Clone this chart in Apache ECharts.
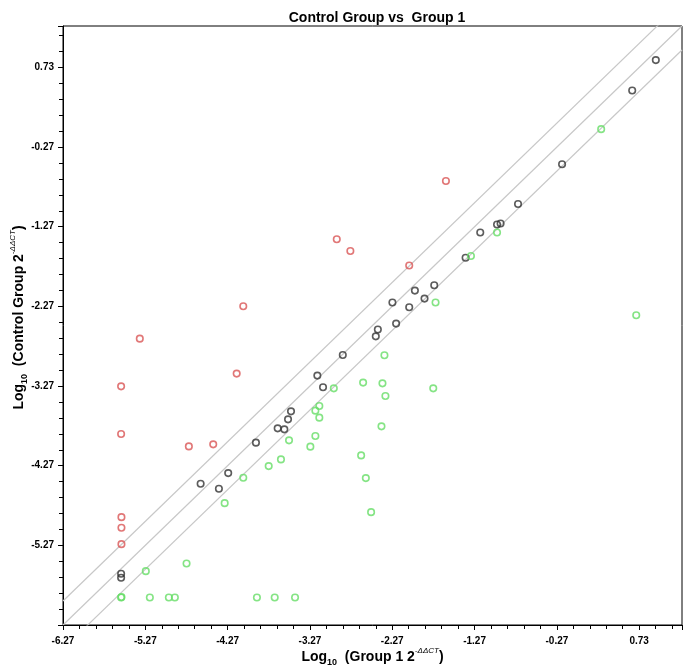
<!DOCTYPE html>
<html><head><meta charset="utf-8">
<script src="https://cdn.jsdelivr.net/npm/echarts@6/dist/echarts.min.js"></script>
<style>html,body{margin:0;padding:0;background:#fff}#c{width:692px;height:672px}</style>
</head><body><div id="c"></div>
<script>
// Axis range (log10 units) and tick step
const axisMin = -6.27;
const axisMax = 1.25;
const tickStep = 1;
const foldOffset = Math.log10(2); // 2-fold boundary lines

// Points above the upper boundary (red)
const upPoints = [
  [-1.618,-0.695],[-2.944,-1.427],[-2.779,-1.574],[-2.064,-1.757],[-4.080,-2.269],
  [-5.337,-2.675],[-5.564,-3.274],[-4.160,-3.114],[-5.564,-3.873],[-4.741,-4.028],
  [-4.445,-4.002],[-5.560,-4.916],[-5.560,-5.049],[-5.560,-5.255]
];
// Points between the boundaries (black)
const midPoints = [
  [0.932,0.822],[0.645,0.441],[-0.207,-0.485],[-0.742,-0.984],[-0.997,-1.242],
  [-0.954,-1.230],[-1.201,-1.343],[-1.379,-1.659],[-1.760,-2.005],[-1.995,-2.072],
  [-2.268,-2.222],[-1.878,-2.172],[-2.064,-2.281],[-2.223,-2.486],[-2.445,-2.561],
  [-2.470,-2.646],[-2.871,-2.881],[-3.180,-3.139],[-3.111,-3.286],[-3.500,-3.588],
  [-3.536,-3.688],[-3.662,-3.801],[-3.581,-3.814],[-3.926,-3.981],[-4.263,-4.363],
  [-4.598,-4.496],[-4.376,-4.559],[-5.564,-5.627],[-5.564,-5.677]
];
// Points below the lower boundary (green)
const downPoints = [
  [0.268,-0.045],[-0.997,-1.343],[-1.314,-1.637],[0.694,-2.382],[-1.744,-2.222],
  [-2.365,-2.884],[-2.624,-3.227],[-2.389,-3.236],[-1.772,-3.299],[-2.353,-3.396],
  [-2.980,-3.299],[-3.156,-3.521],[-3.204,-3.579],[-3.156,-3.667],[-2.401,-3.776],
  [-3.524,-3.952],[-3.204,-3.898],[-3.265,-4.031],[-2.648,-4.141],[-3.622,-4.191],
  [-3.771,-4.275],[-4.080,-4.421],[-2.591,-4.426],[-2.527,-4.853],[-4.306,-4.740],
  [-4.769,-5.497],[-5.264,-5.594],[-5.564,-5.924],[-5.560,-5.920],[-5.215,-5.924],
  [-4.984,-5.924],[-4.911,-5.924],[-3.914,-5.924],[-3.698,-5.924],[-3.451,-5.924]
];

const FONT = 'Liberation Sans';
const refLine = off => [[axisMin, axisMin + off], [axisMax, axisMax + off]];

function lineSeries(off) {
  return {
    type: 'line', data: refLine(off), symbol: 'none', silent: true, clip: true,
    lineStyle: { color: '#c8c8c8', width: 1.2 }, z: 1, animation: false
  };
}
function scatterSeries(data, color) {
  return {
    type: 'scatter', data: data, symbol: 'circle', symbolSize: 6.5, z: 3,
    itemStyle: { color: 'rgba(0,0,0,0)', borderColor: color, borderWidth: 1.6 },
    animation: false
  };
}
function axisCommon() {
  return {
    type: 'value', min: axisMin, max: axisMax, interval: tickStep,
    nameLocation: 'middle', nameMoveOverlap: false,
    axisLine: { show: true, onZero: false, lineStyle: { color: '#000', width: 1 } },
    axisTick: { show: true, length: 5, lineStyle: { color: '#000' } },
    minorTick: { show: true, splitNumber: 5, length: 4, lineStyle: { color: '#000' } },
    splitLine: { show: false },
    minorSplitLine: { show: false },
    axisLabel: {
      fontFamily: FONT, fontSize: 10, fontWeight: 'bold', color: '#000',
      formatter: v => v.toFixed(2), showMaxLabel: false
    }
  };
}
const rich = {
  b: { fontFamily: FONT, fontSize: 14, fontWeight: 'bold', color: '#000', lineHeight: 20 },
  sub: { fontFamily: FONT, fontSize: 9, fontWeight: 'bold', color: '#000', verticalAlign: 'bottom', lineHeight: 20, padding: [6, 0, 0, 0] },
  sup: { fontFamily: FONT, fontSize: 8, fontStyle: 'italic', color: '#000', verticalAlign: 'top', lineHeight: 20, padding: [0, 0, 6, 0] }
};

const xAxis = Object.assign(axisCommon(), {
  name: '{b|Log}{sub|10}{b|  (Group 1 2}{sup|-ΔΔCT}{b|)}',
  nameGap: 22,
  nameTextStyle: { rich: rich }
});
xAxis.axisLabel.margin = 11;
const yAxis = Object.assign(axisCommon(), {
  name: '{b|Log}{sub|10}{b|  (Control Group 2}{sup|-ΔΔCT}{b|)}',
  nameGap: 34,
  nameTextStyle: { rich: rich, padding: [0, 0, 0, 16] }
});
yAxis.axisLabel.margin = 9;
yAxis.axisLabel.showMinLabel = false;

const chart = echarts.init(document.getElementById('c'), null, { renderer: 'canvas' });
chart.setOption({
  backgroundColor: '#fff',
  animation: false,
  title: {
    text: 'Control Group vs  Group 1', left: 372, top: 6, textAlign: 'center',
    textStyle: { fontFamily: FONT, fontSize: 14, fontWeight: 'bold', color: '#000' }
  },
  grid: { left: 63, right: 10, top: 26, bottom: 47, show: true, borderColor: '#000', borderWidth: 1, containLabel: false, outerBoundsMode: 'none' },
  xAxis: xAxis,
  yAxis: yAxis,
  series: [
    lineSeries(foldOffset), lineSeries(0), lineSeries(-foldOffset),
    scatterSeries(midPoints, '#333333'),
    scatterSeries(upPoints, '#d95555'),
    scatterSeries(downPoints, '#66dd66')
  ]
});
</script></body></html>
